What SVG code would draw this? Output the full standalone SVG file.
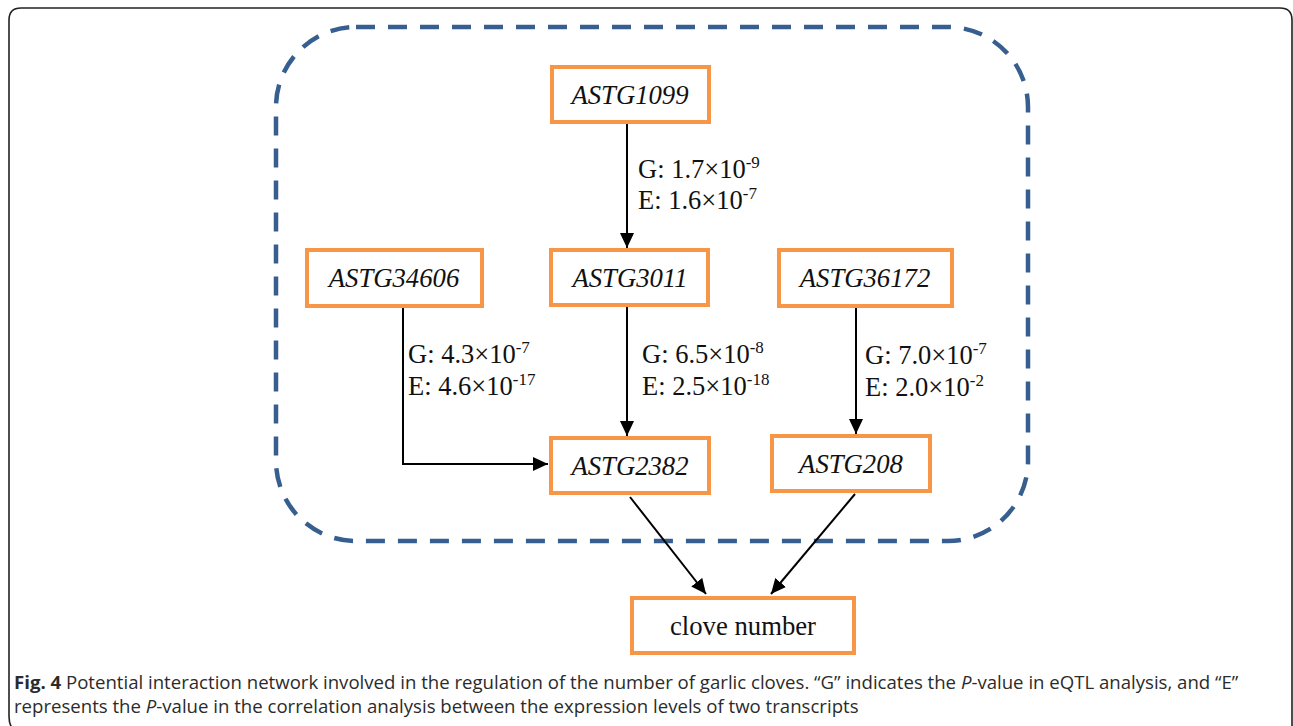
<svg xmlns="http://www.w3.org/2000/svg" width="1293" height="726" viewBox="0 0 1293 726">
<style>
.box{fill:#fff;stroke:#f79646;stroke-width:4}
.nt{font-family:"Liberation Serif","Times New Roman",serif;font-size:26.7px;font-style:italic;fill:#111;text-anchor:middle}
.nr{font-family:"Liberation Serif","Times New Roman",serif;font-size:26.7px;fill:#111;text-anchor:middle}
.lab{font-family:"Liberation Serif","Times New Roman",serif;font-size:26.5px;fill:#111}
.sup{font-size:17px}
.edge{fill:none;stroke:#000;stroke-width:2}
.cap{font-family:"Open Sans","Noto Sans",sans-serif;font-size:18.6px;fill:#2b2b2b}
</style>
<defs>
<marker id="ah" markerUnits="userSpaceOnUse" markerWidth="16" markerHeight="14" refX="15" refY="7" orient="auto">
<path d="M0,0 L15,7 L0,14 z" fill="#000"/>
</marker>
</defs>
<rect width="1293" height="726" fill="#fff"/>
<path d="M14,730 Q9,726 9,716 L9,20 Q9,8 21,8 L1280,8 Q1292,8 1292,20 L1292,740" fill="none" stroke="#222" stroke-width="1.6"/>
<path id="group-boundary" d="M356,27 L948,27 A80,80 0 0 1 1028,107 L1028,461 A80,80 0 0 1 948,541 L356,541 A80,80 0 0 1 276,461 L276,107 A80,80 0 0 1 356,27 Z" fill="none" stroke="#365f8f" stroke-width="4.5" stroke-dasharray="19 13"/>
<g id="connectors">
<line class="edge" x1="627" y1="123" x2="627" y2="248" marker-end="url(#ah)"/>
<line class="edge" x1="627" y1="306" x2="627" y2="436" marker-end="url(#ah)"/>
<polyline class="edge" points="403,308 403,464 548,464" marker-end="url(#ah)"/>
<line class="edge" x1="856" y1="308" x2="856" y2="434" marker-end="url(#ah)"/>
<line class="edge" x1="630" y1="497" x2="706" y2="594" marker-end="url(#ah)"/>
<line class="edge" x1="855" y1="494" x2="771" y2="594" marker-end="url(#ah)"/>
<text class="lab" x="638" y="178">G: 1.7×10<tspan class="sup" dy="-10">-9</tspan></text>
<text class="lab" x="638" y="209">E: 1.6×10<tspan class="sup" dy="-10">-7</tspan></text>
<text class="lab" x="408" y="363">G: 4.3×10<tspan class="sup" dy="-10">-7</tspan></text>
<text class="lab" x="408" y="395">E: 4.6×10<tspan class="sup" dy="-10">-17</tspan></text>
<text class="lab" x="642" y="363">G: 6.5×10<tspan class="sup" dy="-10">-8</tspan></text>
<text class="lab" x="642" y="395">E: 2.5×10<tspan class="sup" dy="-10">-18</tspan></text>
<text class="lab" x="865" y="364">G: 7.0×10<tspan class="sup" dy="-10">-7</tspan></text>
<text class="lab" x="865" y="396">E: 2.0×10<tspan class="sup" dy="-10">-2</tspan></text>
</g>
<g id="n-astg1099"><rect class="box" x="552" y="67" width="157" height="55"/><text class="nt" x="630" y="104">ASTG1099</text></g>
<g id="n-astg3011"><rect class="box" x="551" y="250" width="157" height="55"/><text class="nt" x="630" y="287">ASTG3011</text></g>
<g id="n-astg34606"><rect class="box" x="307" y="250" width="175" height="56"/><text class="nt" x="394" y="287">ASTG34606</text></g>
<g id="n-astg36172"><rect class="box" x="779" y="250" width="173" height="56"/><text class="nt" x="865" y="287">ASTG36172</text></g>
<g id="n-astg2382"><rect class="box" x="551" y="438" width="158" height="55"/><text class="nt" x="630" y="475">ASTG2382</text></g>
<g id="n-astg208"><rect class="box" x="772" y="436" width="158" height="55"/><text class="nt" x="851" y="473">ASTG208</text></g>
<g id="n-clove"><rect class="box" x="632" y="598" width="222" height="55"/><text class="nr" x="743" y="635">clove number</text></g>
<text class="cap" x="14" y="689"><tspan font-weight="bold">Fig. 4</tspan> Potential interaction network involved in the regulation of the number of garlic cloves. “G” indicates the <tspan font-style="italic">P</tspan>-value in eQTL analysis, and “E”</text>
<text class="cap" x="14" y="713">represents the <tspan font-style="italic">P</tspan>-value in the correlation analysis between the expression levels of two transcripts</text>
</svg>
